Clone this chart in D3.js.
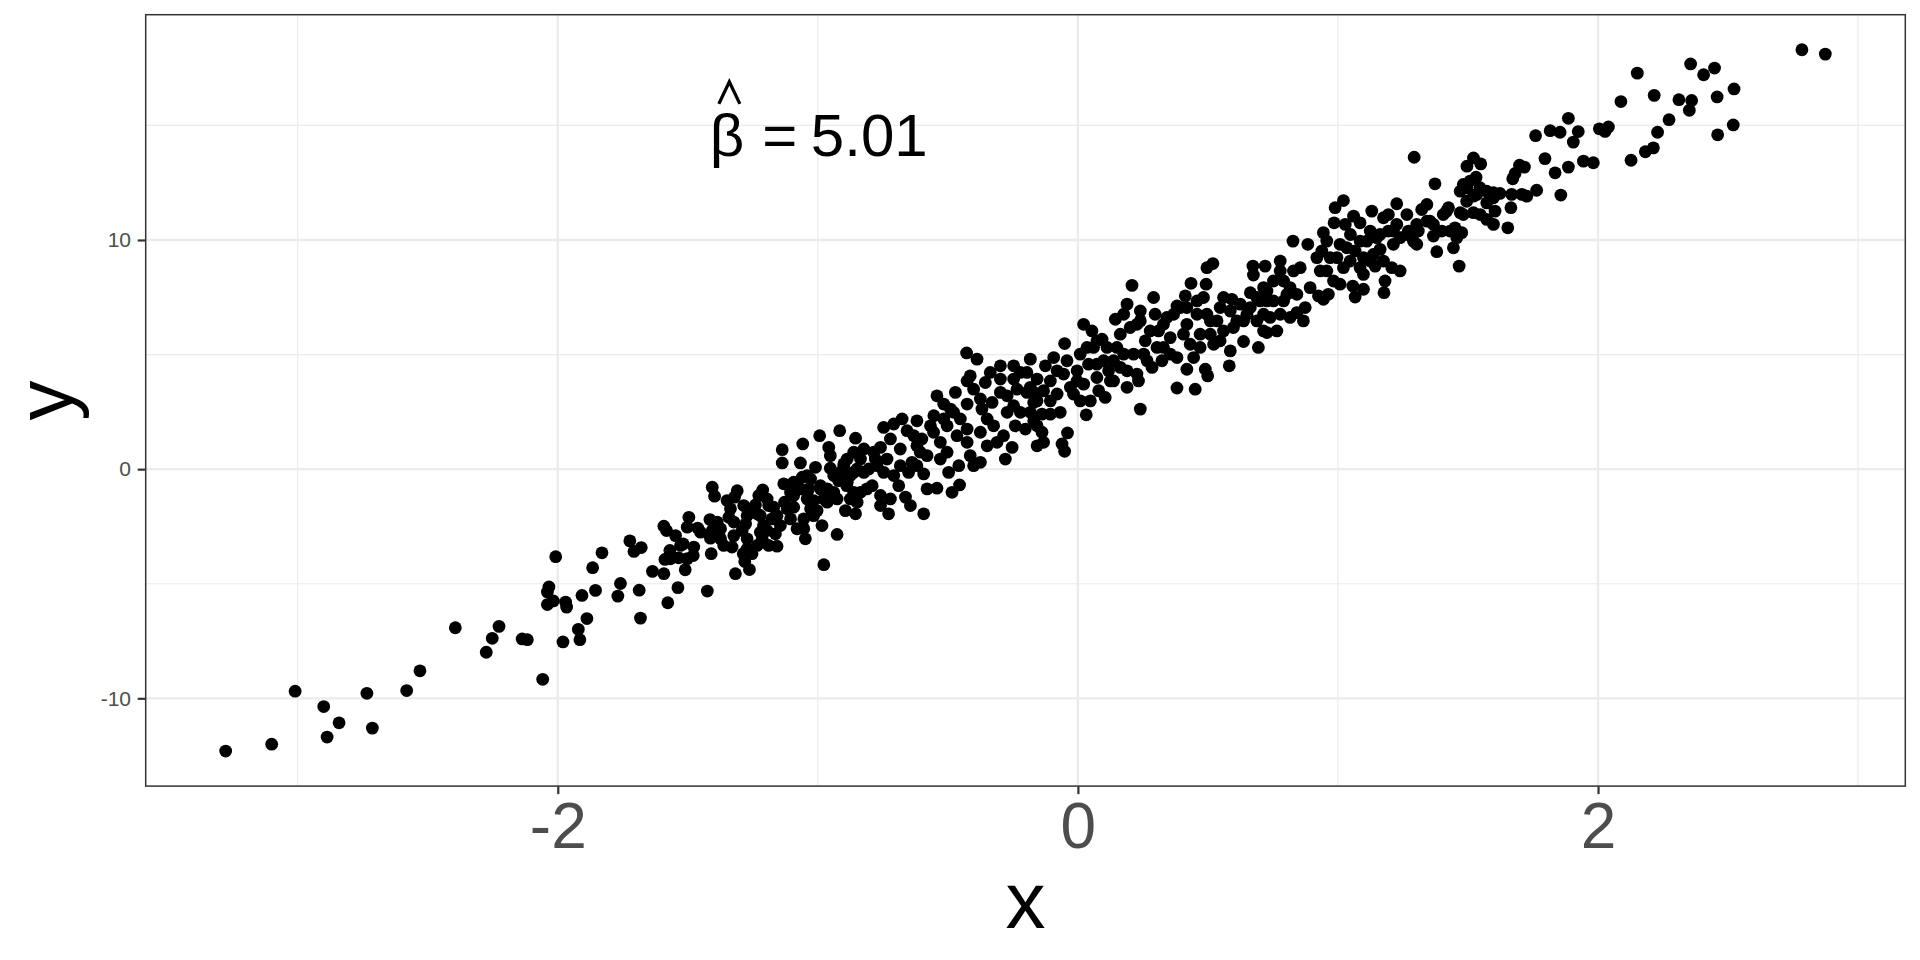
<!DOCTYPE html>
<html>
<head>
<meta charset="utf-8">
<script src="https://cdn.jsdelivr.net/npm/d3@7"></script>
<style>
html, body { margin: 0; padding: 0; background: #ffffff; }
svg { display: block; }
text { font-family: "Liberation Sans", Arial, Helvetica, sans-serif; }
</style>
</head>
<body>
<svg id="chart" width="1920" height="960"></svg>
<script>
// ---------- chart values ----------
const xTicks = [-2, 0, 2];
const xMinorTicks = [-3, -1, 1, 3];
const yTicks = [-10, 0, 10];
const yMinorTicks = [-15, -5, 5, 15];
const xTitle = "x";
const yTitle = "y";
const betaHat = 5.01;
const annotX = -1;
const annotY = 15;

const xValues = [
  // lower tail
  -3.277,-3.100,-3.010,-2.900,-2.887,-2.841,-2.734,-2.713,-2.581,-2.530,
  -2.394,-2.275,-2.252,-2.226,-2.137,-2.117,-2.058,-2.034,-2.040,-2.040,
  -2.017,-1.970,-1.966,-1.980,-1.921,-1.915,-1.888,-1.907,-1.866,-1.855,-2.008,
  // x in [-1.9, -0.85]
  -1.830,-1.769,-1.759,-1.687,-1.682,-1.723,-1.707,-1.679,-1.636,-1.592,
  -1.577,-1.538,-1.425,-1.317,-1.263,-1.510,-1.588,-1.569,-1.535,-1.502,
  -1.477,-1.479,-1.547,-1.518,-1.592,-1.582,-1.496,-1.502,-1.462,-1.415,
  -1.413,-1.410,-1.406,-1.397,-1.374,-1.362,-1.330,-1.349,-1.336,-1.342,
  -1.310,-1.320,-1.291,-1.278,-1.272,-1.287,-1.281,-1.253,-1.240,-1.233,
  -1.212,-1.209,-1.214,-1.189,-1.157,-1.170,-1.176,-1.144,-1.137,-1.137,
  -1.131,-1.105,-1.093,-1.128,-1.067,-1.058,-1.060,-1.080,-1.048,-1.009,
  -1.035,-1.016,-1.003,-0.984,-0.977,-0.926,-0.958,-0.952,-0.952,-0.964,
  -0.920,-0.926,-0.894,-0.855,-0.900,-0.862,-0.875,-0.862,
  -1.105,-1.067,-1.093,-1.041,-1.189,-1.195,-1.227,-1.253,-1.163,-1.233,
  -1.406,-1.374,-1.323,-1.272,-0.913,-0.889,
  -1.221,-1.195,-1.157,-1.118,-1.093,-1.054,-1.028,-0.990,-1.016,-0.964,
  -0.939,-0.887,-0.862,-0.849,-1.285,-1.323,-1.387,-1.451,-1.221,-1.272,
  -1.528,-1.567,
  // x in [-1.0, -0.15]
  -0.993,-0.916,-0.855,-0.823,-0.804,-0.849,-0.759,-0.779,-0.747,-0.791,
  -0.759,-0.836,-0.728,-0.721,-0.759,-0.689,-0.708,-0.683,-0.644,-0.663,
  -0.593,-0.580,-0.542,-0.484,-0.455,-0.651,-0.593,-0.638,-0.619,-0.657,
  -0.747,-0.708,-0.676,-0.619,-0.600,-0.580,-0.567,-0.554,-0.542,-0.516,
  -0.503,-0.529,-0.503,-0.497,-0.458,-0.471,-0.478,-0.465,-0.426,-0.426,
  -0.414,-0.401,-0.375,-0.426,-0.401,-0.414,-0.388,-0.356,-0.369,-0.375,
  -0.349,-0.324,-0.330,-0.298,-0.298,-0.279,-0.253,-0.272,-0.286,-0.241,
  -0.247,-0.221,-0.234,-0.247,-0.196,-0.183,-0.202,-0.183,-0.157,-0.157,
  -0.170,-0.428,
  -1.041,-1.041,-1.028,-1.054,-0.990,-0.977,-0.939,-0.900,-0.887,-0.875,
  -0.836,-0.823,-0.811,-0.785,-0.772,-0.734,-0.721,-0.683,-0.631,-0.606,
  -0.619,-0.555,-0.529,-0.452,-0.426,-0.375,-0.349,-0.311,-0.272,-0.247,
  -0.221,-0.196,-0.170,-0.157,-0.298,-0.337,-0.490,-0.516,
  // x in [-0.2, 0.73]
  -0.051,-0.093,-0.125,-0.132,-0.106,-0.068,-0.138,-0.170,-0.138,-0.132,
  -0.040,-0.061,-0.051,0.032,-0.029,-0.055,-0.003,-0.017,0.009,0.022,
  0.054,0.060,0.041,0.022,0.048,0.080,0.093,0.099,0.105,0.137,
  0.144,0.176,0.208,0.189,0.240,0.150,0.163,0.189,0.201,0.214,
  0.227,0.233,0.240,0.259,0.266,0.291,0.297,0.285,0.310,0.329,
  0.323,0.342,0.355,0.381,0.394,0.413,0.419,0.381,0.435,0.419,
  0.432,0.451,0.458,0.470,0.490,0.499,0.493,0.496,0.519,0.483,
  0.509,0.522,0.547,0.560,0.582,0.586,0.592,0.611,0.637,0.663,
  0.673,0.675,0.650,0.694,0.701,0.714,0.720,0.714,0.688,0.381,
  0.240,0.137,0.073,0.118,-0.106,-0.080,
  -0.157,-0.183,-0.106,-0.080,-0.042,-0.003,0.009,0.035,0.073,0.073,
  0.112,0.125,0.163,0.176,0.189,0.227,0.253,0.278,0.304,0.329,
  0.355,0.368,0.406,0.419,0.445,0.458,0.470,0.496,0.509,0.535,
  0.547,0.560,0.586,0.598,0.624,0.637,0.663,0.688,0.714,0.727,
  // x in [0.72, 1.61]
  0.765,0.727,0.867,0.842,0.874,0.778,0.752,0.804,0.829,0.778,
  0.827,0.884,0.791,0.893,0.925,0.944,0.932,0.944,0.938,0.970,
  0.983,0.963,0.989,1.021,0.985,1.008,1.028,1.021,1.008,1.060,
  1.048,1.066,1.085,1.066,1.057,1.098,1.085,1.098,1.111,1.130,
  1.149,1.136,1.143,1.177,1.181,1.162,1.194,1.194,1.175,1.207,
  1.239,1.213,1.226,1.239,1.265,1.271,1.293,1.303,1.309,1.322,
  1.342,1.354,1.367,1.373,1.380,1.399,1.418,1.425,1.444,1.450,
  1.466,1.470,1.476,1.470,1.496,1.521,1.549,1.531,1.496,1.521,
  1.546,1.521,1.572,1.598,1.598,1.604,1.572,
  0.727,0.752,0.791,0.816,0.778,0.855,0.842,0.739,0.816,0.919,
  0.957,0.996,0.957,1.034,1.047,1.085,1.098,1.124,1.124,1.162,
  1.175,1.213,1.226,1.265,1.290,1.303,1.342,1.367,1.405,1.431,
  1.457,1.482,1.495,1.534,1.572,1.482,1.508,1.547,1.598,
  // upper tail
  1.623,1.653,1.665,1.668,1.672,1.681,1.698,1.717,1.707,1.726,
  1.764,1.760,1.796,1.816,1.835,1.854,1.857,1.886,1.886,1.905,
  1.924,1.944,1.982,2.005,2.027,2.040,2.088,2.127,2.151,2.182,
  2.213,2.216,2.229,2.273,2.311,2.356,2.360,2.351,2.406,2.448,
  2.458,2.460,
  2.523,2.520,2.784,2.874
];

const yValues = [
  // lower tail
  -12.30,-12.00,-9.69,-10.36,-11.69,-11.07,-9.78,-11.30,-9.66,-8.80,
  -6.92,-7.99,-7.38,-6.86,-7.41,-7.44,-9.17,-5.14,-5.36,-5.91,
  -5.75,-5.80,-6.02,-7.54,-6.99,-7.44,-6.52,-5.51,-4.30,-5.29,-3.82,
  // x in [-1.9, -0.85]
  -3.65,-5.54,-4.99,-5.28,-6.50,-3.13,-3.59,-3.42,-4.46,-4.56,
  -5.83,-5.17,-5.32,-4.56,-4.38,-4.39,-3.94,-3.55,-3.87,-3.91,
  -3.40,-3.77,-2.90,-3.26,-2.49,-2.68,-2.10,-2.53,-2.57,-2.20,
  -3.01,-3.69,-0.79,-1.18,-2.60,-3.33,-3.40,-1.37,-1.73,-2.10,
  -0.94,-1.22,-2.68,-2.39,-3.04,-3.69,-4.03,-3.69,-1.56,-1.95,
  -0.91,-2.46,-3.04,-3.33,-3.36,-1.66,-2.17,-2.46,0.27,0.85,
  -0.64,-1.01,-1.66,-1.44,0.27,1.10,-0.35,-2.60,-3.04,0.08,
  -0.86,-1.37,-1.81,-2.46,-4.17,-2.85,0.95,0.59,0.04,-0.86,
  -0.50,-1.30,-1.81,-1.95,0.23,0.74,-0.28,-1.01,
  -2.17,-0.86,-0.57,-1.30,-1.59,-2.68,-1.15,-1.73,-2.82,-3.33,
  -2.68,-3.04,-2.90,-2.03,-0.14,-0.72,
  -2.03,-1.30,-2.03,-1.73,-1.15,-2.17,-0.43,-0.86,-2.03,-1.44,
  -0.28,0.44,-0.14,-1.44,-1.59,-2.31,-2.31,-2.75,-2.75,-3.48,
  -3.33,-3.91,
  // x in [-1.0, -0.15]
  1.46,1.68,1.35,0.88,0.01,0.01,0.95,0.44,-0.14,-0.72,
  -1.15,-1.01,-1.95,-1.30,-1.59,-0.72,-0.28,0.15,-1.59,-1.22,
  -1.95,-0.86,-0.83,-1.01,-0.69,-0.14,-0.21,0.30,1.02,1.68,
  1.82,1.97,2.19,2.11,1.32,0.59,1.89,2.33,3.20,2.84,
  1.89,1.17,0.74,-0.14,0.15,3.35,2.48,1.46,2.84,1.75,
  0.59,0.15,0.30,3.85,3.49,4.07,4.80,3.78,2.62,1.61,
  1.02,1.89,2.91,3.93,3.35,0.44,0.95,2.48,1.46,1.89,
  4.51,4.22,3.49,2.77,3.35,4.80,1.75,2.48,1.02,3.93,
  2.91,5.07,
  -0.28,-1.01,-1.73,-2.60,-0.72,-1.30,-1.01,0.15,-0.57,-1.30,
  0.44,-0.14,-0.86,0.74,0.15,0.44,1.32,0.88,1.46,0.74,
  0.15,1.61,0.44,2.19,1.17,3.06,2.19,1.17,3.20,3.93,
  2.48,4.22,3.35,1.89,4.51,4.22,2.62,2.19,
  // x in [-0.2, 0.73]
  5.48,4.87,4.51,3.42,2.98,2.48,2.40,2.11,1.61,1.17,
  1.58,1.10,0.78,2.37,3.57,4.15,4.29,3.28,5.02,6.32,
  6.03,5.31,4.58,3.71,2.98,3.42,5.67,4.73,3.13,3.85,
  6.54,6.76,8.02,7.20,2.62,5.31,4.44,3.57,6.18,5.02,
  4.15,3.85,6.90,5.60,4.73,7.49,6.76,4.44,6.03,5.31,
  4.73,6.62,5.74,4.87,7.05,7.56,4.36,3.54,8.11,6.32,
  5.45,3.49,6.76,5.89,4.36,4.07,8.07,8.79,8.97,7.49,
  6.47,5.45,7.05,6.03,4.51,5.16,7.41,6.47,5.57,7.70,
  8.86,8.47,6.76,5.31,7.34,7.92,8.86,6.03,6.47,7.12,
  6.47,4.73,4.00,4.29,3.85,4.29,
  2.98,3.57,2.40,3.28,4.73,3.85,2.98,5.31,4.58,5.60,
  5.31,3.85,5.89,5.02,4.29,6.32,5.02,6.03,5.31,6.32,
  5.02,6.76,5.89,7.05,4.87,7.34,5.31,6.76,5.89,6.47,
  5.60,7.49,6.90,6.18,7.20,6.47,7.05,7.49,6.76,7.77,
  // x in [0.72, 1.61]
  6.03,5.96,6.47,6.83,7.05,6.76,7.34,7.63,8.65,9.08,
  9.95,9.81,8.21,7.92,7.56,7.41,8.65,10.32,9.52,9.23,
  8.21,7.63,11.41,11.72,10.75,9.81,10.68,8.79,8.07,11.04,
  10.24,9.52,10.75,7.51,7.99,7.85,8.79,9.23,9.95,11.26,
  10.10,9.37,8.86,7.70,8.21,9.59,11.11,10.39,10.97,8.79,
  8.65,9.81,11.58,10.10,11.11,10.39,13.61,9.81,10.39,11.33,
  11.55,10.82,10.17,12.45,9.49,10.39,11.26,11.41,9.66,10.53,
  8.86,12.13,10.32,11.19,13.22,13.58,13.32,12.74,12.28,11.91,
  12.28,11.19,10.90,10.68,12.06,11.26,11.62,
  7.34,8.21,7.34,7.92,8.65,8.79,7.63,6.62,6.62,9.23,
  8.65,9.23,9.95,9.66,9.08,9.95,8.50,10.39,9.08,10.24,
  9.08,10.39,10.68,10.24,9.95,10.68,10.82,10.68,11.11,10.39,
  10.10,11.11,11.69,11.99,12.13,12.42,12.57,11.11,11.84,
  // upper tail
  12.03,10.53,11.41,11.99,12.67,12.90,13.26,13.18,11.99,11.91,
  12.17,14.55,13.55,14.77,12.93,14.70,11.96,15.31,13.18,14.27,
  14.73,13.44,13.37,14.85,14.74,14.93,16.04,13.48,17.28,13.85,
  14.02,16.31,14.70,15.25,16.12,17.68,16.09,15.66,17.21,17.50,
  16.24,14.59,
  16.59,15.02,18.30,18.11
];

// ---------- layout ----------
const W = 1920, H = 960;
const panel = { left: 145.7, right: 1905.3, top: 14.7, bottom: 786.1 };

const n = Math.min(xValues.length, yValues.length);
const points = d3.range(n).map(i => ({ x: xValues[i], y: yValues[i] }));

const [xmin, xmax] = d3.extent(points, d => d.x);
const [ymin, ymax] = d3.extent(points, d => d.y);
const xPad = (xmax - xmin) * 0.05, yPad = (ymax - ymin) * 0.05;

const x = d3.scaleLinear().domain([xmin - xPad, xmax + xPad]).range([panel.left, panel.right]);
const y = d3.scaleLinear().domain([ymin - yPad, ymax + yPad]).range([panel.bottom, panel.top]);

const svg = d3.select("#chart");
svg.append("rect").attr("width", W).attr("height", H).attr("fill", "#ffffff");

const grid = svg.append("g");
const xDom = x.domain(), yDom = y.domain();
const inX = v => v >= xDom[0] && v <= xDom[1];
const inY = v => v >= yDom[0] && v <= yDom[1];

// minor grid
grid.selectAll(".vminor").data(xMinorTicks.filter(inX)).join("line")
  .attr("x1", d => x(d)).attr("x2", d => x(d))
  .attr("y1", panel.top).attr("y2", panel.bottom)
  .attr("stroke", "#ebebeb").attr("stroke-width", 1.2);
grid.selectAll(".hminor").data(yMinorTicks.filter(inY)).join("line")
  .attr("y1", d => y(d)).attr("y2", d => y(d))
  .attr("x1", panel.left).attr("x2", panel.right)
  .attr("stroke", "#ebebeb").attr("stroke-width", 1.2);
// major grid
grid.selectAll(".vmajor").data(xTicks).join("line")
  .attr("x1", d => x(d)).attr("x2", d => x(d))
  .attr("y1", panel.top).attr("y2", panel.bottom)
  .attr("stroke", "#ebebeb").attr("stroke-width", 2.4);
grid.selectAll(".hmajor").data(yTicks).join("line")
  .attr("y1", d => y(d)).attr("y2", d => y(d))
  .attr("x1", panel.left).attr("x2", panel.right)
  .attr("stroke", "#ebebeb").attr("stroke-width", 2.4);

// points
svg.append("g").selectAll("circle").data(points).join("circle")
  .attr("cx", d => x(d.x)).attr("cy", d => y(d.y))
  .attr("r", 6.4).attr("fill", "#000000");

// panel border
svg.append("rect")
  .attr("x", panel.left).attr("y", panel.top)
  .attr("width", panel.right - panel.left).attr("height", panel.bottom - panel.top)
  .attr("fill", "none").attr("stroke", "#333333").attr("stroke-width", 1.5);

// axes (plain hyphen-minus labels, as in the reference)
const fmt = d => String(d);
const xAxis = svg.append("g")
  .attr("transform", `translate(0,${panel.bottom})`)
  .call(d3.axisBottom(x).tickValues(xTicks).tickSize(8).tickPadding(8.6).tickFormat(fmt));
xAxis.select(".domain").remove();
xAxis.selectAll(".tick line").attr("stroke", "#333333").attr("stroke-width", 2.2);
xAxis.selectAll(".tick text")
  .attr("fill", "#4d4d4d").attr("font-size", 64)
  .attr("font-family", "'Liberation Sans', Arial, Helvetica, sans-serif");

const yAxis = svg.append("g")
  .attr("transform", `translate(${panel.left},0)`)
  .call(d3.axisLeft(y).tickValues(yTicks).tickSize(8).tickPadding(6.7).tickFormat(fmt));
yAxis.select(".domain").remove();
yAxis.selectAll(".tick line").attr("stroke", "#333333").attr("stroke-width", 2.2);
yAxis.selectAll(".tick text")
  .attr("fill", "#4d4d4d").attr("font-size", 21)
  .attr("font-family", "'Liberation Sans', Arial, Helvetica, sans-serif");

// axis titles
svg.append("text")
  .attr("x", (panel.left + panel.right) / 2).attr("y", 928)
  .attr("text-anchor", "middle").attr("font-size", 80).attr("fill", "#000000")
  .text(xTitle);
svg.append("text")
  .attr("transform", `translate(71.7,${(panel.top + panel.bottom) / 2}) rotate(-90)`)
  .attr("text-anchor", "middle").attr("font-size", 80).attr("fill", "#000000")
  .text(yTitle);

// annotation: beta-hat = 5.01
const ann = svg.append("g").attr("transform", `translate(${x(annotX)},${y(annotY)})`);
ann.append("text").attr("x", -108).attr("y", 31).attr("font-size", 60).attr("fill", "#000").text("β");
ann.append("path").attr("d", "M-99,-21.5 L-88.5,-43.5 L-78,-21.5")
  .attr("fill", "none").attr("stroke", "#000").attr("stroke-width", 3.3)
  .attr("stroke-linejoin", "miter");
ann.append("text").attr("x", -55.5).attr("y", 31).attr("font-size", 60).attr("fill", "#000").text("=");
ann.append("text").attr("x", -7).attr("y", 31).attr("font-size", 60).attr("fill", "#000").text(betaHat.toFixed(2));
</script>
</body>
</html>
